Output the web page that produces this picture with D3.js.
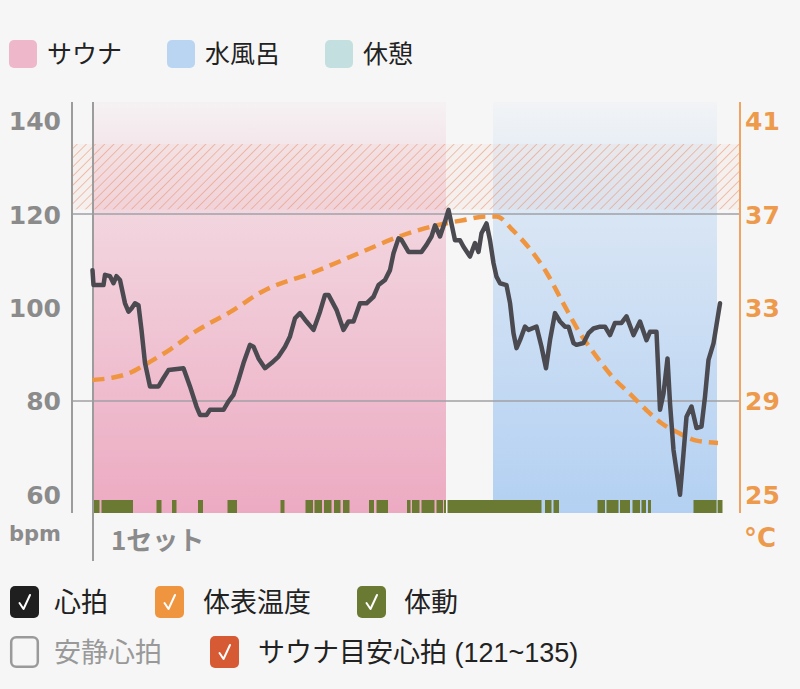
<!DOCTYPE html>
<html><head><meta charset="utf-8">
<script src="https://cdn.jsdelivr.net/npm/d3@7"></script>
<style>
html,body{margin:0;padding:0;background:#f6f6f6;}
svg{display:block;font-family:"Noto Sans CJK JP","Noto Sans",sans-serif;}
</style></head><body>
<svg id="c" width="800" height="689"></svg>
<script>
// ---------- data ----------
const legendPhases = ["サウナ", "水風呂", "休憩"];
const phaseNames = ["サウナ", "水風呂"];
const phaseStart = [0, 801];      // seconds
const phaseEnd   = [707, 1249];

const bpmTicks  = [60, 80, 100, 120, 140];
const tempTicks = [25, 29, 33, 37, 41];
const gridBpm   = [80, 120];
const targetBpm = [121, 135];
const setLabels = ["1セット"];

const hrTime = [0,2,22,25,35,42,48,55,65,72,78,85,92,98,105,115,132,142,152,182,195,208,215,228,235,262,272,282,292,302,315,322,332,345,358,372,385,395,405,415,428,442,455,465,472,488,502,512,522,535,548,562,572,585,595,602,612,618,632,658,668,678,685,695,705,712,725,735,742,755,765,772,778,788,795,802,808,815,828,835,842,848,855,865,872,888,898,907,915,925,935,945,952,962,968,982,992,1002,1015,1025,1035,1045,1058,1068,1082,1095,1108,1115,1128,1135,1142,1150,1155,1162,1175,1182,1188,1198,1208,1218,1225,1232,1242,1255];
const hrBpm  = [108,104.8,104.8,107,106.7,105.2,106.7,105.9,100.9,99.1,99.8,100.9,100.5,95.2,88.1,83.1,83.1,84.9,86.6,87,83.1,78.8,77,77,78.1,78.1,79.9,81.3,84.5,88.1,92,91.6,89.1,87,88.1,89.5,91.6,93.8,97.7,98.8,97,95.2,99.1,102.7,102.7,99.5,95.2,97,97,100.9,100.9,102.3,104.8,105.9,108,111.6,114.8,114.5,111.9,111.9,113.4,115.2,117.6,115.2,118.4,120.9,114.4,114.4,113,110.9,113.8,111.9,115.9,118,114.4,109.5,106.6,105.2,104.8,101,94.5,91.3,93,95.9,95.2,95.9,91.6,87,93,98.8,97,95.9,95.9,92.4,92,92.4,94.5,95.5,95.9,95.9,94.1,96.7,96.7,98.1,94.1,97,93,94.8,94.8,78.1,81.6,89.1,79.5,69.5,59.9,68.8,76.6,78.8,74.2,74.5,80.9,88.8,92.3,100.9];

const tempTime = [0,41,75,101,155,208,275,341,441,541,608,675,741,788,808,841,875,908,941,975,1008,1041,1075,1108,1141,1175,1208,1251];
const tempC    = [29.9,30,30.2,30.5,31.2,32,32.8,33.7,34.5,35.4,36,36.45,36.74,36.9,36.9,36.3,35.5,34.5,33.2,31.9,30.9,30,29.3,28.6,28,27.6,27.3,27.2];

const moveStart = [0,18,128,159,211,270,376,426,444,463,483,501,553,568,629,639,658,688,703,710,905,922,1010,1028,1055,1080,1098,1111,1202,1250];
const moveEnd   = [14,81,138,168,221,289,384,441,459,478,496,514,563,591,636,654,684,701,707,898,918,933,1025,1052,1075,1095,1107,1117,1248,1260];

const checkLabels = ["心拍", "体表温度", "体動", "安静心拍", "サウナ目安心拍 (121~135)"];

// ---------- layout / styles ----------
const svg = d3.select("#c");
const L = 72, R = 740, T = 102, B = 513;
const x = d3.scaleLinear().domain([0, 1255]).range([92.5, 720]);
const y = d3.scaleLinear().domain([56, 144]).range([B, T]);
const yT = d3.scaleLinear().domain([24.2, 41.8]).range([B, T]);
const numFont = "'DejaVu Sans', sans-serif";

const defs = svg.append("defs");
function grad(id, color) {
  const g = defs.append("linearGradient").attr("id", id)
    .attr("x1", 0).attr("y1", 0).attr("x2", 0).attr("y2", 1);
  [[0, 0.06], [0.27, 0.42], [1, 0.97]].forEach(([o, a]) =>
    g.append("stop").attr("offset", o).attr("stop-color", color).attr("stop-opacity", a));
}
grad("gSauna", "#eca8c0");
grad("gWater", "#b1cff2");
const pat = defs.append("pattern").attr("id", "hatch").attr("patternUnits", "userSpaceOnUse")
  .attr("width", 6.5).attr("height", 6.5).attr("patternTransform", "rotate(45)");
pat.append("rect").attr("width", 6.5).attr("height", 6.5).attr("fill", "rgba(240,180,160,0.10)");
pat.append("line").attr("x1", 0).attr("y1", 0).attr("x2", 0).attr("y2", 6.5)
  .attr("stroke", "#e8906c").attr("stroke-width", 1.2).attr("stroke-opacity", 0.85);

// phases
const phaseFill = {"サウナ": "url(#gSauna)", "水風呂": "url(#gWater)"};
svg.append("g").selectAll("rect").data(phaseNames).join("rect")
  .attr("x", (d, i) => x(phaseStart[i]))
  .attr("width", (d, i) => x(phaseEnd[i]) - x(phaseStart[i]))
  .attr("y", T).attr("height", B - T)
  .attr("fill", d => phaseFill[d]);

// target band
svg.append("rect").attr("x", L).attr("width", R - L)
  .attr("y", y(targetBpm[1])).attr("height", y(targetBpm[0]) - y(targetBpm[1]))
  .attr("fill", "url(#hatch)");

// grid
svg.append("g").selectAll("line").data(gridBpm).join("line")
  .attr("x1", L).attr("x2", R).attr("y1", d => y(d)).attr("y2", d => y(d))
  .attr("stroke", "#a0a0a4").attr("stroke-width", 1.5);

// movement
svg.append("g").selectAll("rect").data(moveStart).join("rect")
  .attr("x", (d, i) => x(d)).attr("width", (d, i) => Math.max(1, x(moveEnd[i]) - x(d)))
  .attr("y", B - 13).attr("height", 13).attr("fill", "#6b7a33");

// axes lines
svg.append("line").attr("x1", L).attr("x2", L).attr("y1", T).attr("y2", B)
  .attr("stroke", "#9c9c9c").attr("stroke-width", 2);
svg.append("line").attr("x1", 93).attr("x2", 93).attr("y1", T).attr("y2", 561)
  .attr("stroke", "#9c9c9c").attr("stroke-width", 2);
svg.append("line").attr("x1", R).attr("x2", R).attr("y1", T).attr("y2", B)
  .attr("stroke", "#f0a464").attr("stroke-width", 2);

// temperature line
const tempData = tempTime.map((t, i) => [t, tempC[i]]);
svg.append("path").datum(tempData)
  .attr("d", d3.line().x(d => x(d[0])).y(d => yT(d[1])).curve(d3.curveMonotoneX))
  .attr("fill", "none").attr("stroke", "#f0953f").attr("stroke-width", 4.5)
  .attr("stroke-dasharray", "12 7");

// heart rate line
const hrData = hrTime.map((t, i) => [t, hrBpm[i]]);
svg.append("path").datum(hrData)
  .attr("d", d3.line().x(d => x(d[0])).y(d => y(d[1])))
  .attr("fill", "none").attr("stroke", "#4a4a50").attr("stroke-width", 4.5)
  .attr("stroke-linejoin", "round").attr("stroke-linecap", "round");

// tick labels
const leftAxis = d3.axisLeft(y).tickValues(bpmTicks).tickSize(0).tickPadding(0);
const gl = svg.append("g").attr("transform", `translate(61,0)`).call(leftAxis);
gl.select(".domain").remove();
gl.selectAll("text").attr("font-size", 25).attr("font-weight", "bold").attr("fill", "#8b8b8b")
  .attr("font-family", numFont).attr("dy", "0.36em");
const rightAxis = d3.axisRight(yT).tickValues(tempTicks).tickSize(0).tickPadding(0);
const gr = svg.append("g").attr("transform", `translate(745,0)`).call(rightAxis);
gr.select(".domain").remove();
gr.selectAll("text").attr("font-size", 25).attr("font-weight", "bold").attr("fill", "#ee9a4c")
  .attr("font-family", numFont).attr("dy", "0.36em");

svg.append("text").attr("x", 61).attr("y", 533).attr("dy", "0.36em").attr("text-anchor", "end")
  .attr("font-size", 21).attr("font-weight", "bold").attr("fill", "#8b8b8b")
  .attr("font-family", numFont).text("bpm");
svg.append("text").attr("x", 744).attr("y", 538).attr("dy", "0.36em")
  .attr("font-size", 26).attr("font-weight", "bold").attr("fill", "#ee9a4c")
  .attr("font-family", numFont).text("°C");
svg.append("g").selectAll("text").data(setLabels).join("text")
  .attr("x", 111).attr("y", 541).attr("dy", "0.36em")
  .attr("font-size", 26).attr("font-weight", "bold").attr("fill", "#8b8b8b").text(d => d);

// top legend
const legColors = ["#efb7ca", "#bad5f2", "#c4dfdf"];
const legX = [9, 167, 325];
const lg = svg.append("g").selectAll("g").data(legendPhases).join("g")
  .attr("transform", (d, i) => `translate(${legX[i]},40)`);
lg.append("rect").attr("width", 28).attr("height", 28).attr("rx", 5).attr("fill", (d, i) => legColors[i]);
lg.append("text").attr("x", 38).attr("y", 14).attr("dy", "0.36em")
  .attr("font-size", 25).attr("fill", "#222").text(d => d);

// bottom check legend
const chkColor = ["#1f1f1f", "#f0953f", "#6b7a33", null, "#d65a33"];
const chkX = [10, 155, 357, 10, 210];
const chkY = [586, 586, 586, 636, 636];
const cg = svg.append("g").selectAll("g").data(checkLabels).join("g")
  .attr("transform", (d, i) => `translate(${chkX[i]},${chkY[i]})`);
cg.append("rect").attr("rx", 5)
  .attr("x", (d, i) => chkColor[i] ? 0 : 1.2).attr("y", (d, i) => chkColor[i] ? 0 : 1.2)
  .attr("width", (d, i) => chkColor[i] ? 29 : 26.6).attr("height", (d, i) => chkColor[i] ? 32 : 29.6)
  .attr("fill", (d, i) => chkColor[i] || "none")
  .attr("stroke", (d, i) => chkColor[i] ? "none" : "#9a9a9a").attr("stroke-width", 2.5);
cg.filter((d, i) => chkColor[i]).append("path")
  .attr("d", "M9.5,17 L13.5,23 L20,9").attr("fill", "none").attr("stroke", "#fff")
  .attr("stroke-width", 2).attr("stroke-linecap", "round").attr("stroke-linejoin", "round");
const txtX = [44, 48, 47, 44, 48];
cg.append("text").attr("x", (d, i) => txtX[i]).attr("y", 16).attr("dy", "0.36em")
  .attr("font-family", "'Liberation Sans','Noto Sans CJK JP',sans-serif")
  .attr("font-size", 27).attr("fill", (d, i) => chkColor[i] ? "#222" : "#999").text(d => d);
</script>
</body></html>
